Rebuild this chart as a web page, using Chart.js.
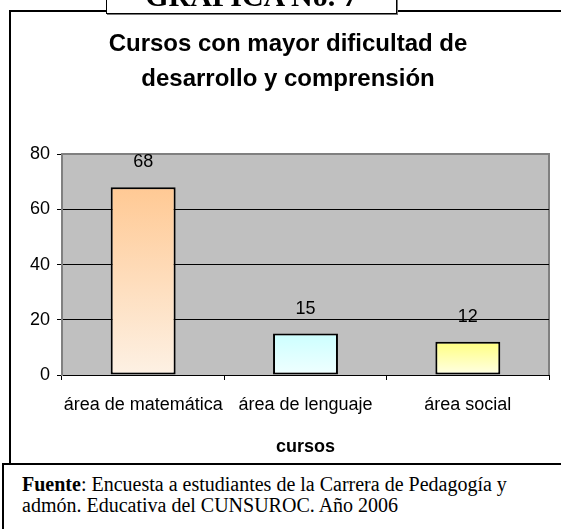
<!DOCTYPE html>
<html>
<head>
<meta charset="utf-8">
<title>Gráfica No. 7</title>
<script src="https://cdn.jsdelivr.net/npm/chart.js@4.4.0/dist/chart.umd.min.js"></script>
<style>
	html, body { margin:0; padding:0; background:#fff; overflow:hidden; }
	body { position:relative; width:561px; height:529px; }
	#frame { position:absolute; left:9px; top:10px; width:600px; height:460px; border-left:2px solid #000; border-top:2px solid #000; }
	#chart { position:absolute; left:0; top:0; }
	#badge { position:absolute; left:106px; top:-20px; width:289px; height:32px; background:#fff; border:1.5px solid #000; box-shadow:1px 1px 0 #777;
		font:bold 30px 'Liberation Serif', 'Times New Roman', serif; line-height:30px; text-align:center; overflow:hidden; white-space:nowrap; }
	#source { position:absolute; left:2px; top:463px; width:600px; height:100px; background:#fff; border:2px solid #000; }
	#source p { margin:0; position:absolute; left:18px; top:9px; font:20px 'Liberation Serif', 'Times New Roman', serif; line-height:21px; white-space:nowrap; color:#000; }
</style>
</head>
<body>
<div id="frame"></div>
<canvas id="chart" width="561" height="529"></canvas>
<div id="badge">GRAFICA No. 7</div>
<div id="source"><p><b>Fuente</b>: Encuesta a estudiantes de la Carrera de Pedagogía y<br>admón. Educativa del CUNSUROC. Año 2006</p></div>

<script>
// Data
var categories = ['área de matemática', 'área de lenguaje', 'área social'];
var values     = [68, 15, 12];
var yTicks     = [0, 20, 40, 60, 80];

// Bar fills (top -> bottom)
var topColors    = ['#FFC994', '#CCFFFF', '#FFFF80'];
var bottomColors = ['#FDF1E4', '#F0FFFF', '#FFFFE6'];

Chart.defaults.font.family = "'Liberation Sans', Arial, sans-serif";
Chart.defaults.color       = '#000';

// gray plot area + values above bars
var plotBox = {
	id : 'plotBox',
	beforeDraw : function (chart) {
		var a = chart.chartArea, c = chart.ctx;
		c.save();
		c.fillStyle = '#C0C0C0';
		c.fillRect(a.left, a.top, a.width, a.height);
		c.strokeStyle = '#808080';
		c.lineWidth   = 2;
		c.beginPath();
		c.moveTo(a.left, a.top);
		c.lineTo(a.right, a.top);
		c.lineTo(a.right, a.bottom);
		c.stroke();
		c.restore();
	},
	afterDatasetsDraw : function (chart) {
		var c = chart.ctx;
		c.save();
		c.font         = "18px 'Liberation Sans', Arial, sans-serif";
		c.fillStyle    = '#000';
		c.textAlign    = 'center';
		c.textBaseline = 'middle';
		chart.getDatasetMeta(0).data.forEach(function (bar, i) {
			c.fillText(String(values[i]), bar.x, bar.y - 25);
		});
		c.restore();
	}
};

var chart = new Chart(document.getElementById('chart'), {
	type : 'bar',
	data : {
		labels   : categories,
		datasets : [{
			data               : values,
			barPercentage      : 0.4,
			categoryPercentage : 1,
			borderColor        : '#000',
			borderWidth        : 2,
			borderSkipped      : false,
			backgroundColor    : function (ctx) {
				var i = ctx.dataIndex, y = ctx.chart.scales.y;
				if (!ctx.chart.chartArea || !y) return topColors[i];
				var g = ctx.chart.ctx.createLinearGradient(0, y.getPixelForValue(values[i]), 0, y.getPixelForValue(0));
				g.addColorStop(0, topColors[i]);
				g.addColorStop(1, bottomColors[i]);
				return g;
			}
		}]
	},
	options : {
		responsive : false,
		animation  : false,
		layout     : { padding : { left : 27, right : 12, top : 0, bottom : 65 } },
		plugins    : {
			legend  : { display : false },
			tooltip : { enabled : false },
			title   : {
				display : true,
				text    : ['Cursos con mayor dificultad de', 'desarrollo y comprensión'],
				color   : '#000',
				font    : { size : 24, weight : 'bold', lineHeight : 1.46 },
				padding : { top : 27, bottom : 57 }
			}
		},
		scales : {
			x : {
				grid   : { offset : true, drawOnChartArea : false, tickLength : 5, color : '#000' },
				border : { color : '#000', width : 1 },
				ticks  : { font : { size : 18 }, padding : 14, color : '#000', maxRotation : 0, minRotation : 0, autoSkip : false },
				title  : { display : true, text : 'cursos', font : { size : 18, weight : 'bold' }, padding : { top : 0, bottom : 6 }, color : '#000' },
				afterFit : function (s) { s.height = 89; }
			},
			y : {
				min : yTicks[0],
				max : yTicks[yTicks.length - 1],
				afterBuildTicks : function (s) { s.ticks = yTicks.map(function (v) { return { value : v }; }); },
				grid   : {
					tickLength : 5,
					tickColor  : '#000',
					color      : function (ctx) { return ctx.tick && ctx.tick.value === 80 ? '#808080' : '#000'; }
				},
				border : { color : '#808080', width : 2 },
				ticks  : { font : { size : 18 }, padding : 7, color : '#000' },
				afterFit : function (s) { s.width = 35; }
			}
		}
	},
	plugins : [plotBox]
});
</script>
</body>
</html>
